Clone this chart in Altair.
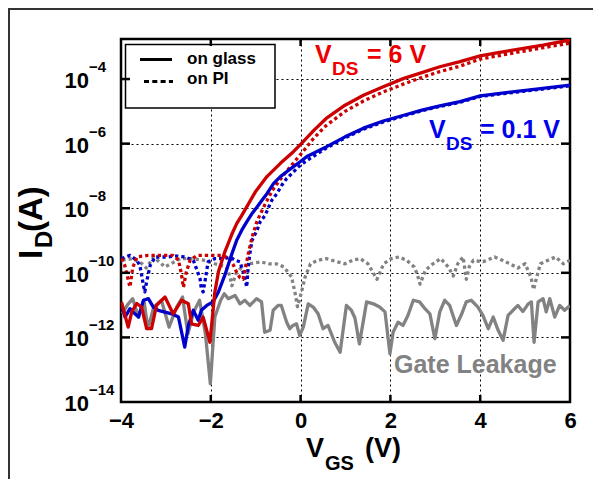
import altair as alt
import pandas as pd

# ---------------- data (currents given as log10(I / A)) ----------------
red_glass_v = [-3.99, -3.84, -3.76, -3.65, -3.54, -3.43, -3.32, -3.21, -3.02, -2.84, -2.65, -2.50, -2.43, -2.28,
               -2.17, -2.02, -1.98, -1.91, -1.83, -1.69, -1.60, -1.53, -1.42, -1.31, -1.20, -1.01, -0.75, -0.45,
               -0.16, 0.0, 0.3, 0.57, 0.99, 1.4, 1.84, 2.3, 2.7, 3.1, 3.55, 4.0, 4.4, 4.83, 5.4, 6.0]
red_glass_log = [-10.9, -11.68, -11.21, -10.95, -11.06, -11.73, -11.73, -11.01, -10.75, -11.27, -10.85, -10.96,
                 -11.58, -11.63, -11.37, -12.15, -11.6, -10.6, -9.97, -9.36, -9.05, -8.80, -8.47, -8.22, -7.96,
                 -7.50, -7.02, -6.61, -6.25, -6.02, -5.58, -5.22, -4.81, -4.5, -4.24, -3.98, -3.8, -3.62, -3.46,
                 -3.28, -3.18, -3.08, -2.95, -2.79]

red_pi_v = [-3.99, -3.92, -3.86, -3.80, -3.74, -3.65, -3.4, -3.1, -2.85, -2.72, -2.66, -2.61, -2.55, -2.46, -2.3,
            -2.0, -1.75, -1.6, -1.5, -1.42, -1.35, -1.28, -1.22, -1.15, -1.06, -0.97, -0.80, -0.63, -0.45, -0.29,
            -0.10, 0.05, 0.3, 0.56, 0.99, 1.4, 1.84, 2.3, 2.7, 3.1, 3.55, 4.0, 4.4, 4.83, 5.4, 6.0]
red_pi_log = [-9.56, -9.75, -10.1, -10.44, -9.85, -9.51, -9.46, -9.46, -9.46, -9.6, -10.0, -10.45, -10.0, -9.6,
              -9.46, -9.46, -9.46, -9.55, -9.75, -10.0, -10.15, -10.2, -9.8, -9.3, -8.8, -8.4, -7.9, -7.45, -7.1,
              -6.82, -6.5, -6.25, -5.82, -5.45, -5.0, -4.68, -4.40, -4.15, -3.95, -3.77, -3.60, -3.38, -3.28,
              -3.17, -3.03, -2.89]

blue_glass_v = [-3.99, -3.91, -3.80, -3.69, -3.61, -3.50, -3.39, -3.28, -3.17, -2.87, -2.72, -2.65, -2.58, -2.50,
                -2.39, -2.28, -2.21, -2.09, -1.95, -1.83, -1.69, -1.54, -1.42, -1.31, -1.20, -1.08, -0.97, -0.86,
                -0.75, -0.60, -0.45, -0.31, -0.16, -0.01, 0.14, 0.57, 0.99, 1.4, 1.84, 2.3, 2.7, 3.1, 3.55, 4.0,
                4.4, 5.2, 6.0]
blue_glass_log = [-10.96, -11.37, -11.11, -11.27, -11.37, -10.85, -10.80, -11.06, -11.16, -11.27, -11.37, -11.84,
                  -12.30, -11.63, -11.16, -11.47, -11.16, -11.01, -10.90, -10.59, -10.08, -9.45, -8.98, -8.68,
                  -8.42, -8.16, -7.96, -7.75, -7.55, -7.23, -7.02, -6.87, -6.71, -6.56, -6.40, -6.10, -5.79,
                  -5.52, -5.30, -5.12, -4.96, -4.83, -4.70, -4.52, -4.45, -4.32, -4.19]

blue_pi_v = [-3.99, -3.80, -3.65, -3.58, -3.54, -3.50, -3.47, -3.43, -3.35, -3.24, -2.98, -2.76, -2.58, -2.39,
             -2.32, -2.24, -2.21, -2.17, -2.12, -2.06, -1.91, -1.69, -1.57, -1.46, -1.35, -1.28, -1.24, -1.20,
             -1.17, -1.13, -1.08, -0.97, -0.90, -0.79, -0.71, -0.64, -0.53, -0.42, -0.31, -0.19, -0.05, 0.10,
             0.21, 0.57, 0.99, 1.4, 1.84, 2.3, 2.7, 3.1, 3.55, 4.0, 4.4, 5.2, 6.0]
blue_pi_log = [-9.56, -9.46, -9.61, -9.77, -10.08, -10.39, -10.59, -10.28, -9.77, -9.51, -9.51, -9.48, -9.51,
               -9.61, -9.87, -10.18, -10.49, -10.59, -10.18, -9.66, -9.56, -9.56, -9.51, -9.61, -9.66, -9.97,
               -10.18, -10.44, -9.87, -9.40, -8.99, -8.68, -8.42, -8.22, -7.96, -7.75, -7.55, -7.29, -7.08,
               -6.92, -6.72, -6.56, -6.46, -6.14, -5.82, -5.55, -5.33, -5.14, -4.98, -4.85, -4.72, -4.54, -4.47,
               -4.34, -4.21]

gate_glass_v = [-3.97, -3.86, -3.74, -3.61, -3.49, -3.40, -3.27, -3.10, -2.93, -2.76,
                -2.63, -2.51, -2.38, -2.25, -2.12, -2.01, -1.91, -1.78, -1.70, -1.61,
                -1.46, -1.35, -1.24, -1.13, -0.98, -0.87, -0.80, -0.68, -0.61, -0.50,
                -0.43, -0.31, -0.24, -0.17, -0.09, -0.02, 0.06, 0.17, 0.28, 0.39,
                0.50, 0.61, 0.76, 0.88, 1.02, 1.13, 1.21, 1.31, 1.47, 1.62,
                1.76, 1.88, 1.99, 2.06, 2.17, 2.28, 2.39, 2.51, 2.65, 2.77,
                2.88, 2.99, 3.10, 3.21, 3.32, 3.47, 3.58, 3.69, 3.80, 3.95,
                4.06, 4.18, 4.29, 4.40, 4.51, 4.62, 4.73, 4.84, 4.95, 5.07,
                5.14, 5.20, 5.29, 5.40, 5.47, 5.55, 5.66, 5.77, 5.88, 6.0]
gate_glass_log = [-11.27, -11.0, -10.80, -11.37, -10.85, -11.73, -11.06, -10.85, -11.68, -11.06,
                  -10.75, -11.89, -11.21, -10.85, -11.89, -13.44, -11.37, -10.85, -10.65, -10.80,
                  -10.70, -10.96, -10.85, -11.01, -10.80, -10.90, -11.84, -11.78, -11.16, -11.01,
                  -11.01, -11.53, -11.73, -11.63, -11.58, -11.94, -11.68, -10.96, -11.06, -11.27,
                  -11.73, -11.63, -12.15, -12.46, -11.01, -11.16, -11.4, -12.20, -10.90, -10.96,
                  -11.06, -11.21, -12.51, -11.84, -11.53, -11.63, -11.32, -10.85, -10.90, -11.11,
                  -11.27, -12.04, -11.21, -10.85, -11.01, -11.63, -11.3, -10.90, -10.85, -11.06,
                  -11.32, -11.73, -11.37, -11.78, -12.09, -11.32, -11.16, -11.01, -11.2, -10.96,
                  -10.90, -12.15, -10.90, -10.80, -11.21, -10.80, -11.37, -11.01, -11.16, -11.01]

gate_pi_v = [-3.97, -3.74, -3.53, -3.44, -3.27, -3.02, -2.68, -2.42, -2.16, -1.91,
             -1.65, -1.57, -1.53, -1.44, -1.31, -1.14, -0.89, -0.71, -0.54, -0.37,
             -0.20, -0.12, -0.07, 0.01, 0.10, 0.22, 0.39, 0.57, 0.82, 0.99,
             1.16, 1.33, 1.50, 1.63, 1.70, 1.85, 2.02, 2.19, 2.36, 2.53,
             2.60, 2.66, 2.78, 2.95, 3.12, 3.29, 3.40, 3.50, 3.62, 3.69,
             3.76, 3.85, 4.06, 4.32, 4.49, 4.66, 4.84, 5.00, 5.13, 5.19,
             5.26, 5.34, 5.51, 5.68, 5.85, 6.00]
gate_pi_log = [-9.61, -9.56, -9.72, -9.85, -9.51, -9.82, -9.56, -9.56, -9.61, -9.72,
               -9.82, -10.13, -10.40, -10.03, -9.82, -9.72, -9.66, -9.72, -9.72, -9.82,
               -10.13, -10.65, -11.05, -10.65, -10.13, -9.72, -9.61, -9.56, -9.66, -9.72,
               -9.61, -9.56, -9.72, -10.03, -10.2, -9.72, -9.56, -9.51, -9.61, -9.82,
               -10.05, -10.35, -9.92, -9.72, -9.56, -9.82, -10.1, -9.72, -9.51, -10.2,
               -9.8, -9.61, -9.66, -9.51, -9.61, -9.72, -9.85, -9.72, -10.13, -10.52,
               -10.13, -9.72, -9.61, -9.51, -9.72, -9.61]

x_label_values = [-4, -2, 0, 2, 4, 6]
x_inner_ticks = [-2, 0, 2, 4]
y_label_exps = [-14, -12, -10, -8, -6, -4]
y_inner_exps = [-12, -10, -8, -6, -4]

# ---------------- styling ----------------
W, H = 449, 363
FONT = "Liberation Sans"
RED, BLUE, GRAY = "#cc0000", "#0000cc", "#828282"
RED_TXT, BLUE_TXT = "#ee0000", "#0000ee"

x_scale = alt.Scale(domain=[-4, 6], nice=False, zero=False)
y_scale = alt.Scale(type="log", domain=[1e-14, 10 ** -2.76], nice=False)

x_axis = alt.Axis(values=x_label_values, title=None, grid=True, gridColor="black", gridDash=[2, 3],
                  gridWidth=1, gridOpacity=1, ticks=False, tickSize=0, domain=False, labelFont=FONT,
                  labelFontSize=22, labelFontWeight="bold", labelColor="black", labelPadding=8,
                  labelFlush=False)
y_axis = alt.Axis(values=[10.0 ** e for e in y_label_exps], title=None, grid=True, gridColor="black",
                  gridDash=[2, 3], gridWidth=1, gridOpacity=1, ticks=False, tickSize=0, domain=False,
                  labels=False)


def X():
    return alt.X("V:Q", scale=x_scale, axis=x_axis)


def Y():
    return alt.Y("I:Q", scale=y_scale, axis=y_axis)


def curve(v, logs, color, dotted):
    df = pd.DataFrame({"V": v, "logI": logs})
    df["I"] = 10.0 ** df["logI"]
    kw = dict(color=color, strokeWidth=3.3, clip=True, strokeCap="butt", strokeJoin="round")
    if dotted:
        kw["strokeDash"] = [3.3, 3]
    return alt.Chart(df).mark_line(**kw).encode(x=X(), y=Y(), order="V:Q")


one = pd.DataFrame({"k": [0]})


def txt(s, x, y, size, color="black", angle=0):
    return alt.Chart(one).mark_text(text=s, align="left", baseline="alphabetic", font=FONT, fontSize=size,
                                    fontWeight="bold", color=color, angle=angle).encode(
        x=alt.value(x), y=alt.value(y))


# outer figure frame
frame = alt.Chart(one).mark_rect(fill="white", fillOpacity=0, stroke="#333333", strokeWidth=2).encode(
    x=alt.value(-112), x2=alt.value(W + 200), y=alt.value(-30), y2=alt.value(H + 200))

# legend box
leg_box = alt.Chart(one).mark_rect(fill="white", stroke="black", strokeWidth=1.5).encode(
    x=alt.value(4.5), x2=alt.value(154), y=alt.value(5.5), y2=alt.value(69))
leg_solid = alt.Chart(one).mark_rule(color="black", strokeWidth=3).encode(
    x=alt.value(19), x2=alt.value(51), y=alt.value(20.5))
leg_dash = alt.Chart(one).mark_rule(color="black", strokeWidth=3, strokeDash=[5, 3.3]).encode(
    x=alt.value(23), x2=alt.value(52), y=alt.value(42.5))

# inward ticks
xt = pd.DataFrame({"V": x_inner_ticks})
yt = pd.DataFrame({"I": [10.0 ** e for e in y_inner_exps]})
tick_kw = dict(color="black", strokeWidth=2.5)
tick_b = alt.Chart(xt).mark_rule(**tick_kw).encode(x=X(), y=alt.value(H), y2=alt.value(H - 7))
tick_t = alt.Chart(xt).mark_rule(**tick_kw).encode(x=X(), y=alt.value(0), y2=alt.value(7))
tick_l = alt.Chart(yt).mark_rule(**tick_kw).encode(y=Y(), x=alt.value(0), x2=alt.value(9))
tick_r = alt.Chart(yt).mark_rule(**tick_kw).encode(y=Y(), x=alt.value(W), x2=alt.value(W - 9))

# y tick labels: 10 with superscript exponent
ytl = pd.DataFrame({"I": [10.0 ** e for e in y_label_exps], "base": ["10"] * len(y_label_exps),
                    "exp": ["\u2212" + str(-e) for e in y_label_exps]})
ylab_base = alt.Chart(ytl).mark_text(align="right", baseline="alphabetic", dy=9, font=FONT, fontSize=22,
                                     fontWeight="bold", color="black").encode(
    x=alt.value(-32), y=Y(), text="base:N")
ylab_exp = alt.Chart(ytl).mark_text(align="left", baseline="alphabetic", dy=-7, font=FONT, fontSize=15,
                                    fontWeight="bold", color="black").encode(
    x=alt.value(-32), y=Y(), text="exp:N")

layers = [
    frame, leg_box,
    curve(gate_glass_v, gate_glass_log, GRAY, False),
    curve(gate_pi_v, gate_pi_log, GRAY, True),
    curve(blue_pi_v, blue_pi_log, BLUE, True),
    curve(red_pi_v, red_pi_log, RED, True),
    curve(blue_glass_v, blue_glass_log, BLUE, False),
    curve(red_glass_v, red_glass_log, RED, False),
    leg_solid, leg_dash,
    tick_b, tick_t, tick_l, tick_r,
    ylab_base, ylab_exp,
    # legend texts
    txt("on glass", 66, 24.5, 17),
    txt("on PI", 66, 45, 17),
    # annotations
    txt("V", 194, 24, 25, RED_TXT), txt("DS", 211, 36, 19, RED_TXT), txt("= 6 V", 246, 24, 25, RED_TXT),
    txt("V", 308, 99, 25, BLUE_TXT), txt("DS", 325, 111, 19, BLUE_TXT), txt("= 0.1 V", 359, 99, 25, BLUE_TXT),
    txt("Gate Leakage", 273, 334, 25, GRAY),
    # axis titles
    txt("V", 185, 418, 27), txt("GS", 204, 431, 20), txt("(V)", 244, 418, 27),
    txt("I", -79, 220, 33, angle=270), txt("D", -69, 209, 24, angle=270), txt("(A)", -79, 193, 33, angle=270),
]

chart = alt.layer(*layers).properties(
    width=W, height=H,
    padding={"left": 113, "top": 31, "right": 23, "bottom": 77},
    autosize=alt.AutoSizeParams(type="none"),
    background="white",
).configure_view(stroke="black", strokeWidth=2.5)

chart.save("out.html", embed_options={"renderer": "svg", "actions": False})
